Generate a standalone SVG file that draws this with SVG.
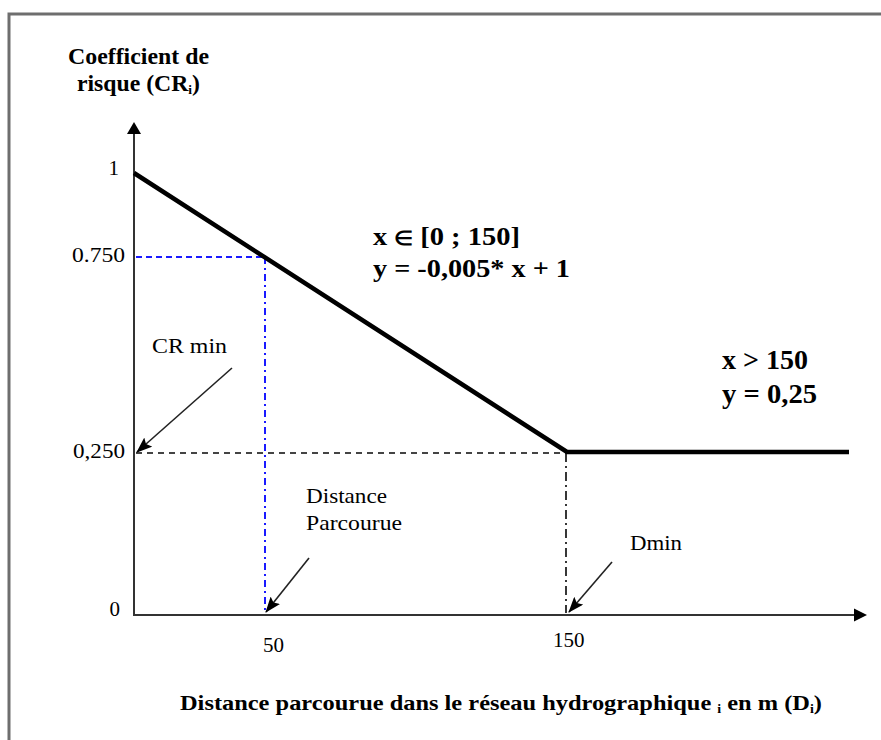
<svg xmlns="http://www.w3.org/2000/svg" width="881" height="740" viewBox="0 0 881 740">
<style>
.t{font-family:"Liberation Serif","Times New Roman",serif;fill:#000}
.b{font-weight:bold}
.ax{stroke:#333;stroke-width:2;fill:none}
.cv{stroke:#000;stroke-width:4.5;fill:none;stroke-linejoin:miter}
.ptr{stroke:#222;stroke-width:1.6;fill:none}
</style>
<defs>
<marker id="ah2" markerWidth="16" markerHeight="12" refX="15" refY="6" orient="auto" markerUnits="userSpaceOnUse" viewBox="0 0 16 12">
<path d="M0,0 L16,6 L0,12 L3,6 z" fill="#000"/>
</marker>
</defs>
<rect width="881" height="740" fill="#fff"/>
<rect x="9" y="14" width="900" height="760" fill="none" stroke="#6e6e6e" stroke-width="3"/>

<g id="title">
<text class="t b" x="68" y="64" font-size="23" textLength="141" lengthAdjust="spacingAndGlyphs">Coefficient de</text>
<text class="t b" x="77" y="91" font-size="23" textLength="123" lengthAdjust="spacingAndGlyphs">risque (CR<tspan font-size="13" dy="3">i</tspan><tspan dy="-3">)</tspan></text>
</g>

<g id="axes">
<path class="ax" d="M134,616 V134"/>
<path d="M127,134 L134,122 L141,134 z" fill="#000"/>
<path class="ax" d="M133,615 H855"/>
<path d="M854,608.5 L867,615 L854,621.5 z" fill="#000"/>
</g>

<g id="ticks">
<text class="t" x="119" y="175" font-size="21" text-anchor="end">1</text>
<text class="t" x="125" y="262" font-size="21" text-anchor="end" textLength="53" lengthAdjust="spacingAndGlyphs">0.750</text>
<text class="t" x="125" y="458" font-size="21" text-anchor="end" textLength="52" lengthAdjust="spacingAndGlyphs">0,250</text>
<text class="t" x="120" y="616" font-size="21" text-anchor="end">0</text>
<text class="t" x="263" y="652" font-size="21">50</text>
<text class="t" x="553" y="647" font-size="21">150</text>
</g>

<g id="guides">
<path d="M136,257 H265" stroke="#1a1aff" stroke-width="2" stroke-dasharray="6 4" fill="none"/>
<path d="M265,257 V613" stroke="#1a1aff" stroke-width="2" stroke-dasharray="7 4 2 4" fill="none"/>
<path d="M136,453 H566" stroke="#444" stroke-width="2" stroke-dasharray="6 5" fill="none"/>
<path d="M566,453 V613" stroke="#222" stroke-width="1.8" stroke-dasharray="9 4 2 4" fill="none"/>
</g>

<g id="curve">
<path class="cv" d="M134,173 L567,452 H849"/>
</g>

<g id="formula1">
<text class="t b" x="373" y="245" font-size="26" textLength="147" lengthAdjust="spacingAndGlyphs">x <tspan font-size="20">∈</tspan> [0 ; 150]</text>
<text class="t b" x="373" y="277" font-size="26" textLength="197" lengthAdjust="spacingAndGlyphs">y = -0,005* x + 1</text>
</g>

<g id="formula2">
<text class="t b" x="722" y="369" font-size="27" textLength="86" lengthAdjust="spacingAndGlyphs">x &gt; 150</text>
<text class="t b" x="722" y="403" font-size="27" textLength="95" lengthAdjust="spacingAndGlyphs">y = 0,25</text>
</g>

<g id="crmin">
<text class="t" x="152" y="353" font-size="21" textLength="75" lengthAdjust="spacingAndGlyphs">CR min</text>
</g>
<g id="distance">
<text class="t" x="306" y="503" font-size="21" textLength="81" lengthAdjust="spacingAndGlyphs">Distance</text>
<text class="t" x="306" y="530" font-size="21" textLength="96" lengthAdjust="spacingAndGlyphs">Parcourue</text>
</g>
<g id="dmin">
<text class="t" x="630" y="550" font-size="21" textLength="52" lengthAdjust="spacingAndGlyphs">Dmin</text>
</g>

<g id="connectors">
<line class="ptr" x1="232" y1="368" x2="137" y2="452" marker-end="url(#ah2)"/>
<line class="ptr" x1="309" y1="558" x2="266" y2="612" marker-end="url(#ah2)"/>
<line class="ptr" x1="612" y1="562" x2="569" y2="612" marker-end="url(#ah2)"/>
</g>

<g id="xlabel">
<text class="t b" x="180" y="710" font-size="21" textLength="642" lengthAdjust="spacingAndGlyphs">Distance parcourue dans le réseau hydrographique <tspan font-size="12" dy="3">i</tspan><tspan dy="-3"> en m (D</tspan><tspan font-size="12" dy="3">i</tspan><tspan dy="-3">)</tspan></text>
</g>
</svg>
